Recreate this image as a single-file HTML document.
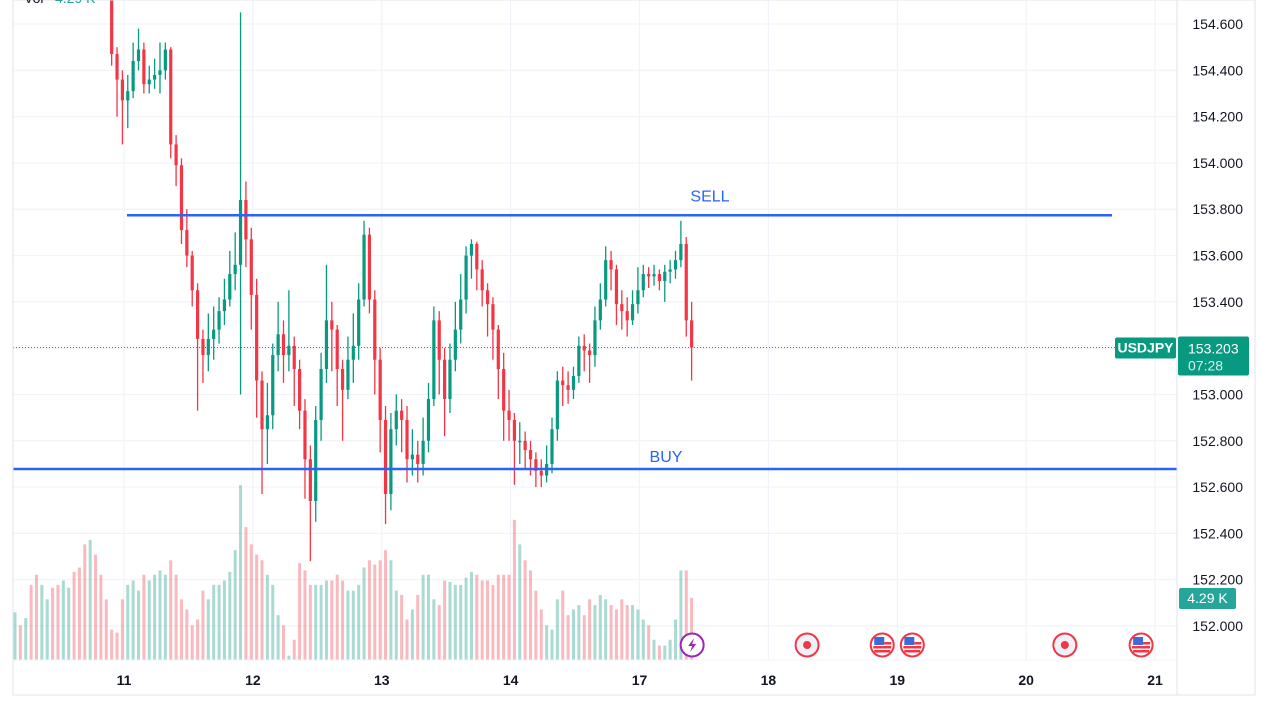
<!DOCTYPE html>
<html><head><meta charset="utf-8"><style>
body{margin:0;background:#fff;width:1269px;height:714px;overflow:hidden;font-family:"Liberation Sans",sans-serif}
svg text{font-family:"Liberation Sans",sans-serif}
</style></head><body>
<svg id="chart" width="1269" height="714" viewBox="0 0 1269 714" xmlns="http://www.w3.org/2000/svg">
<defs><clipPath id="plotClip"><rect x="13" y="0" width="1164" height="660"/></clipPath></defs>
<rect x="0" y="0" width="1269" height="714" fill="#fff"/>
<g id="grid"></g>
<g id="vol" clip-path="url(#plotClip)"></g>
<g id="candles" clip-path="url(#plotClip)"></g>
<g id="overlay"></g>
<g id="axes"></g>
</svg>
<script>
const priceTicks=[152.0,152.2,152.4,152.6,152.8,153.0,153.2,153.4,153.6,153.8,154.0,154.2,154.4,154.6];
const dayLabels=["11","12","13","14","17","18","19","20","21"];
const dayIndex=[20.3,44.3,68.3,92.3,116.3,140.3,164.3,188.3,212.3];
const firstOpen=155.05;
const closes=[155.10,154.98,155.12,155.02,154.95,155.08,155.15,155.05,154.98,155.10,155.20,155.08,155.00,154.92,155.05,154.98,154.90,154.85,
154.47,154.36,154.27,154.31,154.44,154.49,154.34,154.36,154.38,154.40,154.49,154.08,153.99,153.71,153.60,153.45,153.24,153.17,153.24,153.28,
153.36,153.41,153.52,153.56,153.84,153.67,153.43,153.06,152.85,152.91,153.17,153.26,153.17,153.21,153.11,152.93,152.72,152.54,152.89,153.11,
153.32,153.28,153.11,153.02,153.15,153.21,153.41,153.69,153.41,153.15,152.89,152.57,152.85,152.93,152.89,152.72,152.74,152.70,152.80,152.98,
153.32,153.15,152.98,153.15,153.28,153.41,153.60,153.65,153.54,153.45,153.39,153.28,153.11,152.93,152.89,152.80,152.80,152.76,152.72,152.67,
152.65,152.70,152.85,153.06,153.04,153.02,153.08,153.21,153.19,153.17,153.32,153.41,153.58,153.54,153.39,153.36,153.32,153.39,153.45,153.52,
153.51,153.52,153.49,153.53,153.54,153.58,153.65,153.32,153.203];
const highs=[155.15,155.12,155.18,155.14,155.05,155.12,155.22,155.18,155.08,155.15,155.25,155.22,155.10,155.02,155.10,155.08,154.98,154.95,
154.70,154.50,154.40,154.38,154.52,154.58,154.52,154.42,154.45,154.52,154.52,154.50,154.12,154.02,153.80,153.62,153.48,153.28,153.35,153.38,
153.42,153.50,153.62,153.70,154.65,153.92,153.72,153.50,153.10,153.05,153.22,153.40,153.32,153.45,153.25,153.15,152.98,152.78,152.95,153.18,
153.56,153.40,153.30,153.15,153.25,153.35,153.48,153.75,153.72,153.45,153.20,152.95,152.92,153.00,152.98,152.95,152.85,152.80,152.90,153.05,
153.38,153.36,153.20,153.22,153.40,153.52,153.64,153.67,153.66,153.58,153.48,153.42,153.30,153.18,153.02,152.92,152.88,152.84,152.80,152.75,
152.72,152.78,152.90,153.10,153.12,153.10,153.12,153.25,153.26,153.22,153.38,153.48,153.64,153.62,153.56,153.45,153.42,153.45,153.55,153.56,
153.55,153.56,153.54,153.56,153.58,153.62,153.75,153.68,153.40];
const lows=[154.98,154.92,154.95,154.96,154.88,154.90,155.02,154.98,154.92,154.95,155.05,155.00,154.94,154.86,154.88,154.90,154.84,154.78,
154.42,154.20,154.08,154.15,154.28,154.40,154.30,154.30,154.32,154.30,154.36,154.02,153.90,153.65,153.55,153.38,152.93,153.05,153.10,153.15,
153.22,153.30,153.38,153.45,153.00,153.55,153.28,152.90,152.57,152.70,152.85,153.10,153.05,153.10,152.95,152.85,152.55,152.28,152.45,152.80,
153.05,153.10,152.95,152.80,152.98,153.05,153.15,153.38,153.35,153.00,152.75,152.44,152.50,152.78,152.75,152.62,152.65,152.62,152.65,152.75,
152.95,153.00,152.82,152.92,153.10,153.22,153.35,153.50,153.45,153.38,153.25,153.15,152.98,152.80,152.80,152.61,152.70,152.68,152.65,152.60,
152.60,152.62,152.66,152.80,152.95,152.96,152.98,153.05,153.10,153.05,153.12,153.28,153.38,153.45,153.30,153.28,153.25,153.30,153.35,153.42,
153.46,153.47,153.45,153.40,153.48,153.50,153.55,153.25,153.06];
const volumes=[3.3,2.4,2.9,5.2,5.9,5.2,4.2,5.0,5.2,5.5,5.0,6.1,6.4,8.0,8.3,7.3,5.9,4.2,2.1,1.9,4.2,5.2,5.5,4.8,5.9,5.5,5.9,
6.2,5.9,6.9,5.9,4.2,3.5,2.4,2.8,4.8,4.2,5.2,5.2,5.5,6.1,7.6,12.1,9.2,8.0,7.3,6.9,5.9,5.2,3.1,2.4,0.3,1.4,6.7,6.2,5.2,
5.2,5.2,5.5,5.5,5.9,5.5,4.8,4.8,5.2,6.4,6.9,6.6,6.9,7.6,6.9,4.8,4.5,2.8,3.5,4.5,5.9,5.9,4.2,3.8,5.5,5.4,5.2,5.2,
5.7,6.1,5.9,5.5,5.5,5.2,5.9,5.9,5.9,9.7,8.0,6.9,6.2,4.8,3.5,2.4,2.1,4.2,4.8,3.1,3.5,3.8,3.1,4.2,3.8,4.5,4.2,3.8,
3.5,4.2,3.8,3.8,3.5,2.8,2.4,1.4,1.0,1.0,1.4,2.8,6.2,6.2,4.3];
const sellLevel=153.774, buyLevel=152.678, lastPrice=153.203, lastVolLabel="4.29 K";
const events=[{i:126.1,t:"bolt"},{i:147.5,t:"dot"},{i:161.5,t:"flag"},{i:167.1,t:"flag"},{i:195.5,t:"dot"},{i:209.7,t:"flag"}];

const NS="http://www.w3.org/2000/svg";
const py=p=>24+(154.6-p)*231.54;
const xi=i=>15+i*5.37;
const vy=v=>660-v*14.45;
function mk(tag,attrs,parent,txt){const e=document.createElementNS(NS,tag);for(const k in attrs)e.setAttribute(k,attrs[k]);if(txt!==undefined)e.textContent=txt;parent.appendChild(e);return e;}
const G=id=>document.getElementById(id);
const grid=G('grid'),vol=G('vol'),cg=G('candles'),ov=G('overlay'),ax=G('axes');
priceTicks.forEach(p=>{const l=mk('line',{x1:13,x2:1177,y1:py(p),y2:py(p),stroke:'#f0f3fa','stroke-width':1.2},grid);

});
dayIndex.forEach(i=>{const l=mk('line',{x1:xi(i),x2:xi(i),y1:0,y2:660,stroke:'#f0f3fa','stroke-width':1.2},grid);

});
closes.forEach((c,i)=>{
 const o=i===0?firstOpen:closes[i-1];const up=c>=o;const x=xi(i);
 const col=up?'#089981':'#f23645';
 const vb=mk('rect',{x:x-1.5,y:vy(volumes[i]),width:3,height:660-vy(volumes[i]),fill:up?'rgba(8,153,129,0.35)':'rgba(242,54,69,0.35)'},vol);
 
 
 const w=mk('line',{x1:x,x2:x,y1:py(highs[i]),y2:py(lows[i]),stroke:col,'stroke-width':1.3},cg);
 
 
 const t=Math.min(py(o),py(c)),h=Math.max(1.5,Math.abs(py(o)-py(c)));
 const b=mk('rect',{x:x-1.6,y:t,width:3.2,height:h,fill:col},cg);
 
 
});
const sl=mk('line',{x1:127,x2:1112,y1:py(sellLevel),y2:py(sellLevel),stroke:'#2962ff','stroke-width':2.5},ov);


const st=mk('text',{x:710,y:py(sellLevel)-14,'text-anchor':'middle','font-size':16,fill:'#2962ff'},ov,'SELL');


const bl=mk('line',{x1:13,x2:1177,y1:py(buyLevel),y2:py(buyLevel),stroke:'#2962ff','stroke-width':2.5},ov);


const bt=mk('text',{x:666,y:py(buyLevel)-7,'text-anchor':'middle','font-size':16,fill:'#2962ff'},ov,'BUY');


const pl=mk('line',{x1:13,x2:1115,y1:py(lastPrice),y2:py(lastPrice),stroke:'#089981','stroke-width':1,'stroke-dasharray':'1 2'},ov);


events.forEach(ev=>{const g=mk('g',{},ov);const x=xi(ev.i),y=645;
 
 
 if(ev.t==='bolt'){mk('circle',{cx:x,cy:y,r:11.5,fill:'#fff',stroke:'#9c27b0','stroke-width':2},g);
  mk('path',{d:`M${x+2} ${y-7} L${x-4} ${y+1} L${x} ${y+1} L${x-2} ${y+7} L${x+4} ${y-1} L${x} ${y-1} Z`,fill:'#9c27b0'},g);}
 else if(ev.t==='dot'){mk('circle',{cx:x,cy:y,r:11.5,fill:'#eef1f8',stroke:'#f23645','stroke-width':2},g);mk('circle',{cx:x,cy:y,r:4,fill:'#f23645'},g);}
 else{mk('circle',{cx:x,cy:y,r:11.5,fill:'#fff',stroke:'#f23645','stroke-width':2},g);
  mk('rect',{x:x-9,y:y+1,width:18,height:2.5,fill:'#f23645'},g);mk('rect',{x:x-8,y:y+5,width:16,height:2.5,fill:'#f23645'},g);
  mk('rect',{x:x-8,y:y-8,width:10,height:8,fill:'#3f6ad8'},g);mk('rect',{x:x+2,y:y-3,width:7,height:2.5,fill:'#f23645'},g);}
});
const ab=mk('rect',{x:13,y:0,width:1242,height:695,fill:'none',stroke:'#e0e3eb','stroke-width':1},ax);


const ya=mk('line',{x1:1177,x2:1177,y1:0,y2:695,stroke:'#e0e3eb'},ax);


const xa=mk('line',{x1:13,x2:1177,y1:660,y2:660,stroke:'#f0f3fa'},ax);


priceTicks.forEach(p=>{const t=mk('text',{x:1243,y:py(p)+5,'text-anchor':'end','font-size':14,fill:'#131722'},ax,p.toFixed(3));

});
dayLabels.forEach((d,k)=>{const t=mk('text',{x:xi(dayIndex[k]),y:685,'text-anchor':'middle','font-size':14,'font-weight':'bold',fill:'#131722'},ax,d);

});
const yl=py(lastPrice);
const ut=mk('g',{},ax);


mk('rect',{x:1115,y:yl-10,width:61,height:21,rx:2,fill:'#089981'},ut);
mk('text',{x:1145.5,y:yl+5,'text-anchor':'middle','font-size':14,'font-weight':'bold',fill:'#fff'},ut,'USDJPY');
const pt=mk('g',{},ax);


mk('rect',{x:1178,y:yl-11,width:71,height:39,rx:2,fill:'#089981'},pt);
mk('text',{x:1188,y:yl+6,'font-size':14,fill:'#fff'},pt,lastPrice.toFixed(3));
mk('text',{x:1188,y:yl+23,'font-size':14,fill:'#d6f0ea'},pt,'07:28');
const vt=mk('g',{},ax);


mk('rect',{x:1179,y:vy(4.29)-10,width:57,height:21,rx:2,fill:'#26a69a'},vt);
mk('text',{x:1207.5,y:vy(4.29)+5,'text-anchor':'middle','font-size':14,fill:'#fff'},vt,lastVolLabel);
const lg=mk('text',{x:24,y:3,'font-size':14,fill:'#131722'},ax,'Vol');


const lv=mk('text',{x:55,y:3,'font-size':14,fill:'#26a69a'},ax,lastVolLabel);


</script>
</body></html>
